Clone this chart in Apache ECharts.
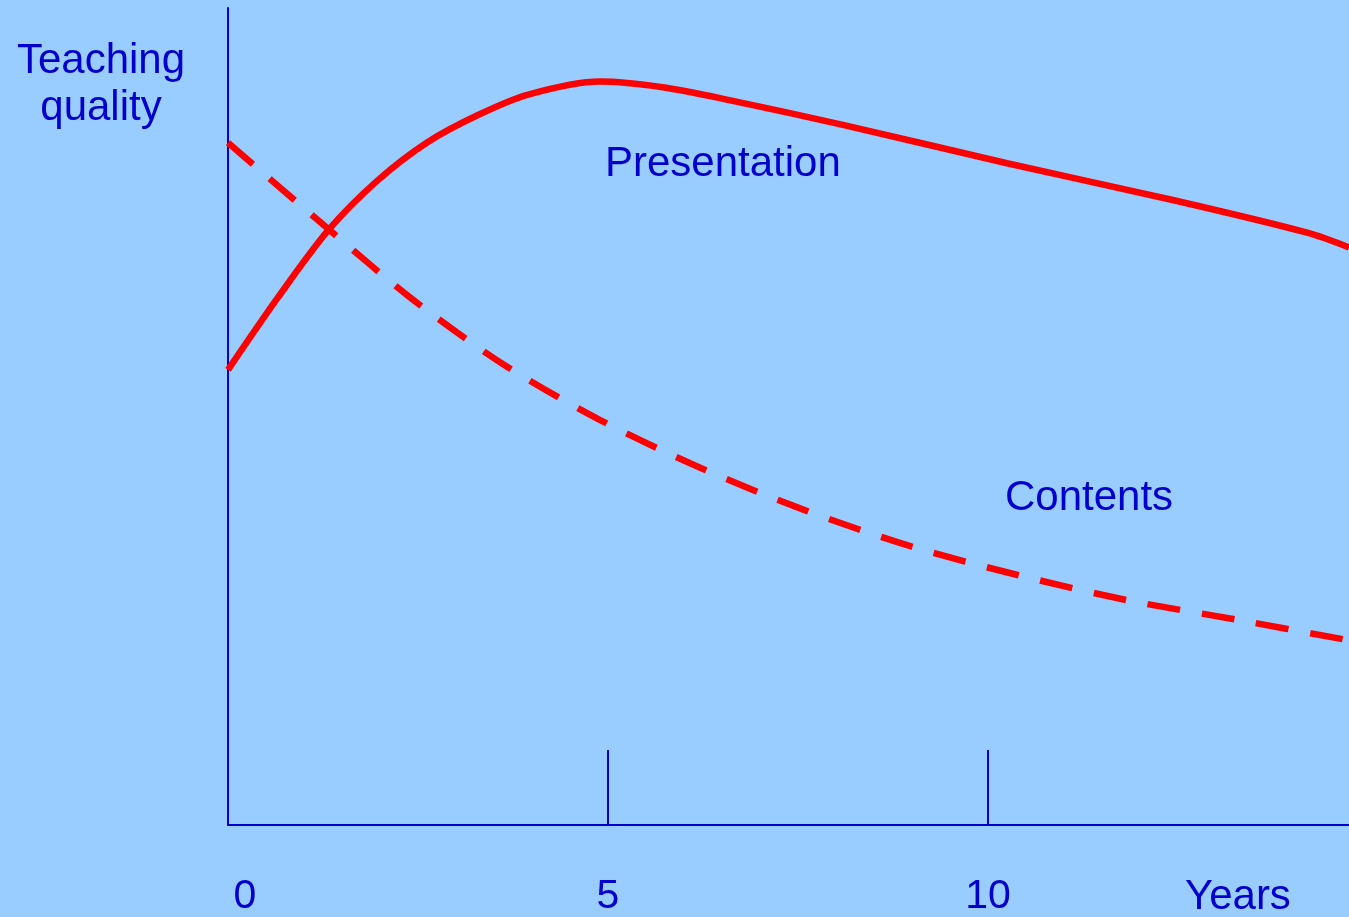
<!DOCTYPE html>
<html>
<head>
<meta charset="utf-8">
<script src="https://cdn.jsdelivr.net/npm/echarts@6/dist/echarts.min.js"></script>
<style>
  html, body { margin: 0; padding: 0; background: #99ccff; }
  #chart { width: 1349px; height: 917px; }
</style>
</head>
<body>
<div id="chart"></div>
<script>
// years on the x axis, quality (0..100) on the y axis
const presentationYears = [0, 0.66, 1.32, 1.97, 2.63, 3.29, 3.95, 4.89, 5.72, 6.61, 8.09, 10.25, 12.43, 14.2, 14.75];
const presentationValues = [55.7, 64.6, 72.8, 78.9, 83.6, 86.9, 89.4, 91.0, 90.3, 88.7, 85.7, 81.0, 76.5, 72.5, 70.7];

const contentsYears = [0, 1.34, 2.42, 3.62, 4.89, 6.22, 7.57, 8.99, 10.39, 11.84, 13.29, 14.75];
const contentsValues = [83.5, 72.8, 64.4, 56.4, 49.6, 43.7, 38.6, 34.1, 30.6, 27.5, 25.1, 22.6];

const tickValues = [0, 5, 10];

const blue = "#0000cc";
const font = "'Liberation Sans', Arial, sans-serif";
const textFont = "42px " + font;

const chart = echarts.init(document.getElementById("chart"));

const option = {
  backgroundColor: "#99ccff",
  animation: false,
  grid: { left: 228, right: 0, top: 8, bottom: 92 },
  xAxis: {
    type: "value",
    min: 0,
    max: 14.75,
    splitLine: { show: false },
    axisLine: { show: true, lineStyle: { color: blue, width: 2 } },
    axisTick: {
      show: true,
      inside: true,
      length: 75,
      customValues: tickValues,
      lineStyle: { color: blue, width: 2 },
    },
    axisLabel: {
      color: blue,
      fontSize: 41,
      fontFamily: font,
      margin: 51,
      customValues: tickValues,
      formatter: (v) => (v === 0 ? "{z|0}" : String(v)),
      rich: {
        z: { color: blue, fontSize: 41, fontFamily: font, padding: [0, 0, 0, 34] },
      },
    },
  },
  yAxis: {
    type: "value",
    min: 0,
    max: 100,
    splitLine: { show: false },
    axisLine: { show: true, lineStyle: { color: blue, width: 2 } },
    axisTick: { show: false },
    axisLabel: { show: false },
  },
  series: [
    {
      name: "Presentation",
      type: "line",
      data: presentationYears.map((x, i) => [x, presentationValues[i]]),
      smooth: 0.3,
      symbol: "none",
      lineStyle: { color: "#ff0000", width: 6.5 },
    },
    {
      name: "Contents",
      type: "line",
      data: contentsYears.map((x, i) => [x, contentsValues[i]]),
      smooth: 0.3,
      symbol: "none",
      lineStyle: { color: "#ff0000", width: 6.5, type: [33, 22], cap: "butt" },
    },
  ],
  graphic: [
    {
      type: "text",
      style: {
        x: 101, y: 61, text: "Teaching", fill: blue, font: textFont,
        textAlign: "center", textVerticalAlign: "middle",
      },
    },
    {
      type: "text",
      style: {
        x: 101, y: 108, text: "quality", fill: blue, font: textFont,
        textAlign: "center", textVerticalAlign: "middle",
      },
    },
    {
      type: "text",
      style: {
        x: 605, y: 164, text: "Presentation", fill: blue, font: textFont,
        textAlign: "left", textVerticalAlign: "middle",
      },
    },
    {
      type: "text",
      style: {
        x: 1005, y: 498, text: "Contents", fill: blue, font: textFont,
        textAlign: "left", textVerticalAlign: "middle",
      },
    },
    {
      type: "text",
      style: {
        x: 1185, y: 897, text: "Years", fill: blue, font: textFont,
        textAlign: "left", textVerticalAlign: "middle",
      },
    },
  ],
};

chart.setOption(option);
</script>
</body>
</html>
